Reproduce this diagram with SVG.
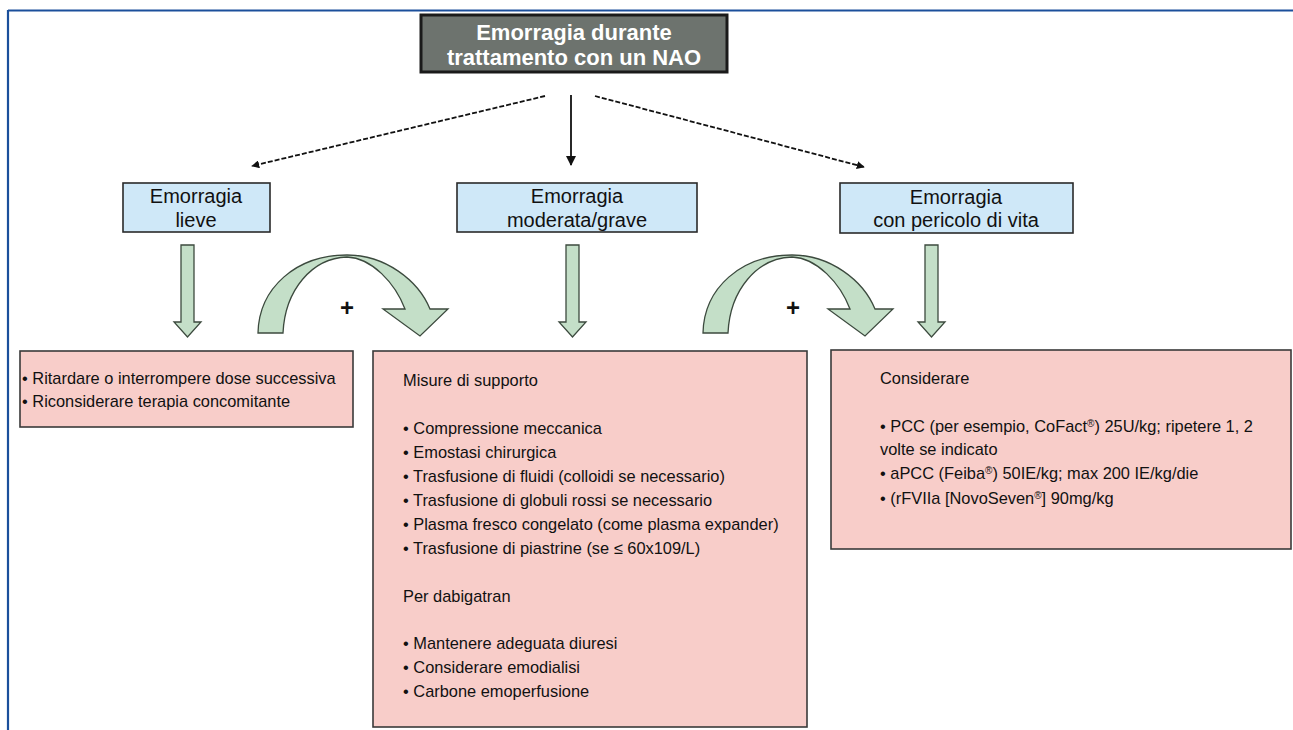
<svg xmlns="http://www.w3.org/2000/svg" width="1293" height="730" viewBox="0 0 1293 730">
<defs>
<style>
.frame{stroke:#1b4f9b;stroke-width:2.2;fill:none}
.title{fill:#6d736e;stroke:#1a1a1a;stroke-width:3}
.ttl{font-family:"Liberation Sans",Arial,sans-serif;font-weight:bold;font-size:22px;fill:#fff;text-anchor:middle}
.blue{fill:#cfe8f8;stroke:#2a2a2a;stroke-width:1.6}
.pink{fill:#f8cdc9;stroke:#3a3a3a;stroke-width:1.6}
.bt{font-family:"Liberation Sans",Arial,sans-serif;font-size:20px;fill:#111;text-anchor:middle}
.pt{font-family:"Liberation Sans",Arial,sans-serif;font-size:16.4px;fill:#111}
.green{fill:#c4dfc8;stroke:#3c4a3e;stroke-width:1.3;stroke-linejoin:miter}
.conn{stroke:#111;stroke-width:1.8;fill:none}
.dash{stroke-dasharray:5 2}
.plus{font-family:"Liberation Sans",Arial,sans-serif;font-weight:bold;font-size:24px;fill:#111;text-anchor:middle}
.sup{font-size:10px}
</style>
<marker id="ah" viewBox="0 0 10 10" refX="9" refY="5" markerWidth="8" markerHeight="8" markerUnits="userSpaceOnUse" orient="auto">
<path d="M0,0 L10,5 L0,10 Z" fill="#111"/>
</marker>
<marker id="ahv" viewBox="0 0 10 10" refX="9" refY="5" markerWidth="12" markerHeight="10" markerUnits="userSpaceOnUse" orient="auto">
<path d="M0,0 L10,5 L0,10 Z" fill="#111"/>
</marker>
<path id="curve" d="M258,333 C259,288 296,255 347,255 C385,255 418,280 430,309 L448,309 L420,336 L383,309 L405,309 C395,283 372,258 347,257 C312,258 285,290 283,333 Z"/>
</defs>
<rect width="1293" height="730" fill="#fff"/>
<g id="frame">
<line class="frame" x1="8" y1="10.5" x2="1293" y2="10.5"/>
<line class="frame" x1="8" y1="10" x2="8" y2="730"/>
</g>
<g id="connectors">
<line class="conn dash" x1="545" y1="96" x2="252" y2="166" marker-end="url(#ah)"/>
<line class="conn" x1="571" y1="95" x2="571" y2="165" marker-end="url(#ahv)"/>
<line class="conn dash" x1="595" y1="96" x2="864" y2="167" marker-end="url(#ah)"/>
<path class="green" d="M181,245 H194 V322 H201 L187.5,337 L174,322 H181 Z"/>
<path class="green" d="M566,245 H579 V322 H586 L572.5,337 L559,322 H566 Z"/>
<path class="green" d="M925,245 H938 V322 H945 L931.5,337 L918,322 H925 Z"/>
<use href="#curve" class="green"/>
<use href="#curve" class="green" transform="translate(445,0)"/>
<text class="plus" x="347" y="316">+</text>
<text class="plus" x="793" y="316">+</text>
</g>
<g id="node-title">
<rect class="title" x="421" y="15" width="306" height="57"/>
<text class="ttl" x="574" y="40">Emorragia durante</text>
<text class="ttl" x="574" y="65">trattamento con un NAO</text>
</g>
<g id="node-lieve">
<rect class="blue" x="123" y="183" width="147" height="49"/>
<text class="bt" x="196" y="203">Emorragia</text>
<text class="bt" x="196" y="227">lieve</text>
</g>
<g id="node-moderata">
<rect class="blue" x="457" y="183" width="240" height="49"/>
<text class="bt" x="577" y="203">Emorragia</text>
<text class="bt" x="577" y="227">moderata/grave</text>
</g>
<g id="node-vita">
<rect class="blue" x="840" y="183" width="233" height="50"/>
<text class="bt" x="956" y="204">Emorragia</text>
<text class="bt" x="956" y="227">con pericolo di vita</text>
</g>
<g id="node-action-lieve">
<rect class="pink" x="20" y="351" width="333" height="76"/>
<text class="pt" x="22" y="384">• Ritardare o interrompere dose successiva</text>
<text class="pt" x="22" y="407">• Riconsiderare terapia concomitante</text>
</g>
<g id="node-action-moderata">
<rect class="pink" x="373" y="351" width="434" height="376"/>
<text class="pt" x="403" y="386">Misure di supporto</text>
<text class="pt" x="403" y="434">• Compressione meccanica</text>
<text class="pt" x="403" y="458">• Emostasi chirurgica</text>
<text class="pt" x="403" y="482">• Trasfusione di fluidi (colloidi se necessario)</text>
<text class="pt" x="403" y="506">• Trasfusione di globuli rossi se necessario</text>
<text class="pt" x="403" y="530">• Plasma fresco congelato (come plasma expander)</text>
<text class="pt" x="403" y="554">• Trasfusione di piastrine (se ≤ 60x109/L)</text>
<text class="pt" x="403" y="602">Per dabigatran</text>
<text class="pt" x="403" y="649">• Mantenere adeguata diuresi</text>
<text class="pt" x="403" y="673">• Considerare emodialisi</text>
<text class="pt" x="403" y="697">• Carbone emoperfusione</text>
</g>
<g id="node-action-vita">
<rect class="pink" x="831" y="350" width="460" height="199"/>
<text class="pt" x="880" y="384">Considerare</text>
<text class="pt" x="880" y="432">• PCC (per esempio, CoFact<tspan class="sup" baseline-shift="super">®</tspan>) 25U/kg; ripetere 1, 2</text>
<text class="pt" x="880" y="455">volte se indicato</text>
<text class="pt" x="880" y="479">• aPCC (Feiba<tspan class="sup" baseline-shift="super">®</tspan>) 50IE/kg; max 200 IE/kg/die</text>
<text class="pt" x="880" y="504">• (rFVIIa [NovoSeven<tspan class="sup" baseline-shift="super">®</tspan>] 90mg/kg</text>
</g>
</svg>
